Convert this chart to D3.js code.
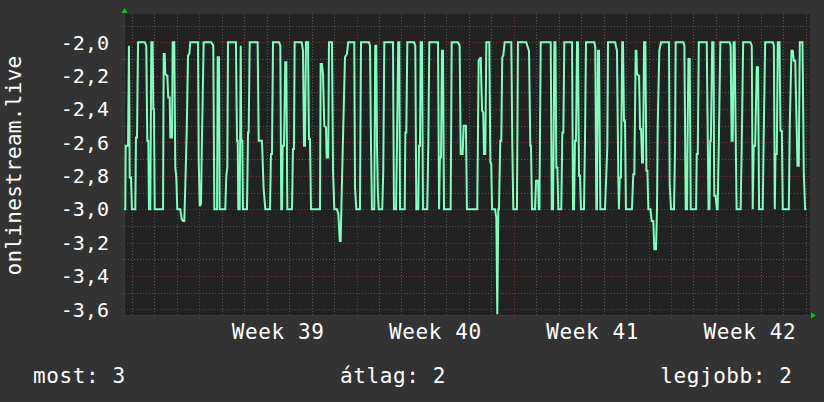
<!DOCTYPE html>
<html><head><meta charset="utf-8">
<script src="https://cdn.jsdelivr.net/npm/d3@7"></script>
<style>html,body{margin:0;padding:0;background:#333333;}svg{display:block}</style>
</head><body>
<svg id="chart" width="824" height="402"></svg>
<script>
// ---------- data ----------
const yTitle = "onlinestream.live";
const startTime = Date.UTC(2023, 8, 21, 15, 36);   // left edge of the graph
const spanHours = 732.9;                             // hours shown
const yTicks = [-2.0, -2.2, -2.4, -2.6, -2.8, -3.0, -3.2, -3.4, -3.6];
const yMinorTicks = [-1.9, -2.1, -2.3, -2.5, -2.7, -2.9, -3.1, -3.3, -3.5];
const weekLabels = ["Week 39", "Week 40", "Week 41", "Week 42"];
const legendLabels = ["most", "átlag", "legjobb"];
const legendValues = [3, 2, 2];
// [hours since startTime, value]
const series = [
[0,-3.0],[1.4,-3.0],[1.8,-2.62],[4.3,-2.62],[5.3,-2.02],[6.1,-2.81],[7.5,-2.81],[8.5,-3.0],[12.1,-3.0],[12.8,-2.57],[13.9,-2.57],[15,-2.0],[22.1,-2.0],[23.8,-2.02],[24.9,-2.59],[26,-2.59],[26.7,-3.0],[28.1,-3.0],[29.2,-2.0],[30.6,-2.0],[31.3,-2.4],[32,-2.4],[32.8,-3.0],[41.7,-3.0],[42.4,-2.07],[43.5,-2.07],[44.1,-2.19],[46.3,-2.2],[47.3,-2.33],[48.8,-2.33],[49.5,-2.57],[51.3,-2.57],[52,-2.0],[53.7,-2.0],[54.8,-2.75],[55.9,-2.81],[56.9,-3.0],[60.1,-3.0],[61.6,-3.06],[63,-3.07],[64.4,-3.07],[65.5,-2.86],[67,-2.53],[68.4,-2.08],[69.8,-2.07],[70.8,-2.0],[79.1,-2.0],[79.8,-2.7],[80.9,-2.98],[82.3,-2.97],[83.3,-2.57],[85.1,-2.0],[93.3,-2.0],[95.4,-2.02],[96.5,-3.0],[99.4,-3.0],[100.1,-2.09],[101.5,-2.09],[102.2,-3.0],[108.2,-3.0],[109.3,-2.8],[110.4,-2.75],[111.1,-2.0],[119.6,-2.0],[120.7,-2.59],[121.5,-2.59],[122.1,-3.0],[123.6,-3.0],[124.7,-2.02],[125.3,-2.59],[126.4,-2.59],[127.1,-3.0],[131.4,-3.0],[132.5,-2.54],[133.2,-2.54],[134.3,-2.0],[142.8,-2.0],[143.9,-2.59],
[147.4,-2.59],[149.2,-2.88],[151,-3.0],[156,-3.0],[157,-2.67],[158.1,-2.67],[159.2,-2.0],[165.6,-2.0],[167,-2.02],[168,-3.0],[168.8,-3.0],[169.5,-2.62],[170.9,-2.62],[172.3,-2.12],[173.4,-2.12],[174.5,-3.0],[179.5,-3.0],[180.5,-2.64],[181.6,-2.64],[182.3,-2.0],[189.8,-2.0],[191.2,-2.05],[192.3,-2.62],[193.4,-2.62],[194.4,-2.0],[196.6,-2.0],[197.6,-2.58],[198.7,-2.58],[199.8,-3.0],[209.4,-3.0],[210.1,-2.13],[211.5,-2.13],[212.6,-2.19],[214,-2.5],[215.8,-2.51],[216.5,-2.69],[218.2,-2.69],[219,-2.0],[222.2,-2.0],[223.3,-2.77],[224.7,-3.0],[227.6,-3.0],[229,-3.03],[230.5,-3.19],[231.5,-3.19],[232.2,-3.0],[234,-2.57],[236.1,-2.09],[238.2,-2.07],[239.6,-2.0],[246,-2.0],[246.8,-2.87],[248.2,-3.0],[252.1,-3.0],[253.2,-2.0],[261.7,-2.0],[262.8,-2.02],[263.9,-2.62],[264.9,-3.0],[267.4,-3.0],[268.4,-2.02],[269.5,-2.02],[270.3,-2.62],[271.3,-2.91],[272.1,-3.0],[275.9,-3.0],[277,-2.77],[278.1,-2.0],[287.4,-2.0],[288.4,-3.0],[290.6,-3.0],[291.6,-2.62],[293,-2.0],
[294.1,-2.0],[294.9,-3.0],[299.9,-3.0],[300.6,-2.54],[301.6,-2.54],[302.7,-2.0],[309.8,-2.0],[311.2,-2.02],[312.3,-3.0],[314.4,-3.0],[315.2,-2.62],[316.2,-2.62],[317,-2.0],[318.4,-2.0],[319.4,-3.0],[324,-3.0],[325.1,-2.62],[326.2,-2.0],[335.5,-2.0],[336.6,-3.0],[337.6,-2.69],[338.7,-2.69],[339.7,-2.05],[340.8,-2.05],[341.9,-3.0],[349,-3.0],[350.1,-2.0],[356.8,-2.0],[358.6,-2.02],[359.7,-2.67],[361.8,-2.67],[362.9,-2.5],[365.3,-2.5],[366.4,-3.0],[377.4,-3.0],[378.9,-2.11],[381.1,-2.09],[382.5,-2.41],[383.8,-2.42],[384.6,-2.67],[386,-2.67],[387.1,-2.0],[390.3,-2.0],[391.4,-2.72],[392.4,-2.73],[393.2,-3.0],[396.4,-3.0],[397.8,-3.05],[398.8,-3.63],[399.9,-3.0],[400.6,-3.0],[402,-2.59],[403.1,-2.59],[404.1,-2.09],[405.2,-2.08],[406.7,-2.0],[413.8,-2.0],[414.8,-2.59],[415.9,-3.0],[419.8,-3.0],[420.9,-2.0],[429.8,-2.0],[430.8,-2.02],[432.7,-2.05],[434.1,-2.62],[434.8,-2.62],[435.9,-3.0],[439.1,-3.0],[440.2,-2.83],
[442.4,-2.83],[443.1,-3.0],[443.8,-3.0],[445.2,-2.0],[455.9,-2.0],[457,-3.0],[458.4,-3.0],[459.8,-2.0],[460.9,-2.0],[461.9,-2.75],[463,-2.75],[464,-3.0],[467.2,-3.0],[468.3,-2.54],[469.4,-2.54],[470.4,-2.0],[478.7,-2.0],[479.7,-3.0],[480.8,-3.0],[481.8,-2.59],[482.9,-2.59],[484,-2.0],[485,-2.0],[486.1,-2.8],[487.2,-2.8],[488.2,-3.0],[491.4,-3.0],[492.5,-2.59],[493.6,-2.0],[502.5,-2.0],[503.5,-2.03],[504.6,-3.0],[505.3,-3.0],[506.4,-2.05],[507.5,-2.05],[508.9,-3.0],[513.9,-3.0],[516.4,-2.62],[517.1,-2.0],[524.6,-2.0],[526.7,-2.05],[528.1,-2.81],[528.8,-3.0],[529.6,-2.81],[530.9,-2.81],[532.3,-2.0],[533.1,-2.0],[534.2,-2.47],[535.2,-2.47],[536.3,-3.0],[542.7,-3.0],[544.1,-2.79],[545.2,-2.79],[546.7,-2.05],[547.4,-2.05],[548.1,-2.19],[550.3,-2.2],[551.3,-2.52],[552.4,-2.52],[553.5,-2.72],[554.5,-2.72],[555.6,-2.0],[557,-2.0],[558.1,-2.77],[559.2,-2.77],[560.2,-3.0],[562.4,-3.0],[563.8,-3.07],[565.5,-3.07],[566.6,-3.24],[568.4,-3.24],[569.4,-3.01],[570.2,-2.5],[571.9,-2.05],[573.7,-2.0],[582.2,-2.0],[583,-2.85],[584.4,-3.0],[587.6,-3.0],[588.7,-2.64],
[589.4,-2.0],[597.6,-2.0],[598.7,-2.02],[600.1,-3.0],[601.6,-3.0],[602,-2.64],[603,-2.1],[604.4,-2.1],[605.5,-3.0],[611.2,-3.0],[611.9,-2.67],[613,-2.67],[614.1,-2.0],[622.6,-2.0],[623.7,-2.59],[624.5,-3.0],[625.5,-3.0],[626.3,-2.59],[627,-2.59],[628.4,-2.0],[629.8,-2.0],[630.6,-2.92],[632,-2.92],[633.4,-3.0],[634.2,-3.0],[635.6,-2.57],[637.1,-2.0],[647,-2.0],[648.1,-2.02],[649.2,-2.59],[650.3,-2.59],[651.3,-2.0],[652.4,-2.0],[653.5,-2.55],[654.5,-3.0],[658.8,-3.0],[659.9,-2.64],[661.5,-2.0],[669.3,-2.0],[670.7,-2.02],[671.7,-3.0],[672.8,-2.62],[674.3,-2.62],[676,-2.15],[677.4,-2.15],[678.5,-3.0],[682.4,-3.0],[683.5,-2.54],[685,-2.0],[693.2,-2.0],[694.3,-2.02],[695.3,-3.0],[696,-2.67],[697.4,-2.67],[698.5,-2.0],[700.3,-2.0],[701.4,-2.53],[702.8,-2.53],[703.8,-3.0],[710.3,-3.0],[711.3,-2.49],[713.1,-2.05],[714.5,-2.05],[715.6,-2.11],[717.1,-2.11],[718.5,-2.47],[719.5,-2.74],[720.9,-2.74],[722,-2.0],[724.9,-2.0],[726.3,-2.79],[727.7,-3.0],[729.1,-3.0]
];

// ---------- layout ----------
const W = 824, H = 402;
const plot = {left: 124, right: 810, top: 14, bottom: 315};
const FONT = "'DejaVu Sans Mono', monospace";
const HOUR = 3600 * 1000;
const t0 = new Date(startTime), t1 = new Date(startTime + spanHours * HOUR);

const x = d3.scaleUtc().domain([t0, t1]).range([plot.left, plot.right]);
const y = d3.scaleLinear().domain([-3.634, -1.8304]).range([plot.bottom, plot.top]);
const fmt = d3.formatLocale({decimal: ",", thousands: ".", grouping: [3], currency: ["", ""], minus: "-"}).format(".1f");

const svg = d3.select("#chart");
svg.append("rect").attr("width", W).attr("height", H).attr("fill", "#333333");
svg.append("rect").attr("x", plot.left).attr("y", plot.top)
  .attr("width", plot.right - plot.left).attr("height", plot.bottom - plot.top).attr("fill", "#222222");

const grid = svg.append("g").attr("shape-rendering", "crispEdges");
const minorCol = "#575757", majorCol = "#7a3434";
// vertical: days (minor), Mondays (major)
const days = d3.utcDay.range(t0, t1);
const mondays = d3.utcMonday.range(t0, t1);
const isMon = d => d.getUTCDay() === 1;
grid.selectAll(".vmin").data(days.filter(d => !isMon(d))).join("line")
  .attr("x1", d => Math.round(x(d)) + 0.5).attr("x2", d => Math.round(x(d)) + 0.5)
  .attr("y1", plot.top).attr("y2", plot.bottom + 2)
  .attr("stroke", minorCol).attr("stroke-dasharray", "1,2");
grid.selectAll(".vmaj").data(mondays).join("line")
  .attr("x1", d => Math.round(x(d)) + 0.5).attr("x2", d => Math.round(x(d)) + 0.5)
  .attr("y1", plot.top).attr("y2", plot.bottom + 3)
  .attr("stroke", majorCol).attr("stroke-dasharray", "1,2");
// horizontal
grid.selectAll(".hmin").data(yMinorTicks).join("line")
  .attr("x1", plot.left - 2).attr("x2", plot.right)
  .attr("y1", d => Math.round(y(d)) + 0.5).attr("y2", d => Math.round(y(d)) + 0.5)
  .attr("stroke", minorCol).attr("stroke-dasharray", "1,2");
grid.selectAll(".hmaj").data(yTicks).join("line")
  .attr("x1", plot.left - 3).attr("x2", plot.right)
  .attr("y1", d => Math.round(y(d)) + 0.5).attr("y2", d => Math.round(y(d)) + 0.5)
  .attr("stroke", majorCol).attr("stroke-dasharray", "1,2");

// axes
grid.append("line").attr("x1", plot.left + 0.5).attr("x2", plot.left + 0.5)
  .attr("y1", plot.top - 4).attr("y2", plot.bottom + 2).attr("stroke", "#3a3a3a");
grid.append("line").attr("x1", plot.left - 2).attr("x2", plot.right + 4)
  .attr("y1", plot.bottom + 0.5).attr("y2", plot.bottom + 0.5).attr("stroke", "#3a3a3a");
const arrowCol = "#00cc00";
svg.append("path").attr("fill", arrowCol)
  .attr("d", `M${plot.left - 2.5},${plot.top - 1} L${plot.left + 3.5},${plot.top - 1} L${plot.left + 0.5},${plot.top - 6} Z`);
svg.append("path").attr("fill", arrowCol)
  .attr("d", `M${plot.right + 1},${plot.bottom - 2.5} L${plot.right + 1},${plot.bottom + 3.5} L${plot.right + 6},${plot.bottom + 0.5} Z`);

// data line
const line = d3.line()
  .x(d => x(new Date(startTime + d[0] * HOUR)))
  .y(d => y(d[1]));
svg.append("path").datum(series).attr("d", line)
  .attr("fill", "none").attr("stroke", "#7dffc0").attr("stroke-width", 2)
  .attr("stroke-linejoin", "miter").attr("stroke-miterlimit", 2);

// text
const txt = svg.append("g").attr("fill", "#ffffff").attr("font-family", FONT);
txt.selectAll(".yl").data(yTicks).join("text")
  .attr("font-size", 20)
  .attr("x", 109).attr("y", d => y(d)).attr("dy", "0.36em")
  .attr("text-anchor", "end").text(d => fmt(d));
// week labels at middle of each week
const weekMid = mondays.map(d => new Date(+d + 3.5 * 24 * HOUR)).filter(d => d < t1);
txt.selectAll(".xl").data(weekLabels).join("text")
  .attr("font-size", 21).attr("letter-spacing", 0.6)
  .attr("x", (d, i) => x(weekMid[i]) + 0.3).attr("y", 338.5)
  .attr("text-anchor", "middle").text(d => d);
txt.append("text").attr("font-size", 21).attr("letter-spacing", 0.3)
  .attr("transform", "translate(21," + ((plot.top + plot.bottom) / 2 + 1) + ") rotate(-90)")
  .attr("text-anchor", "middle").text(yTitle);
const legX = [33, 393, 792.6], legA = ["start", "middle", "end"];
txt.selectAll(".lg").data(legendLabels).join("text")
  .attr("font-size", 21).attr("letter-spacing", 0.6)
  .attr("x", (d, i) => legX[i]).attr("y", 382.5).attr("text-anchor", (d, i) => legA[i])
  .text((d, i) => d + ": " + legendValues[i]);
</script>
</body></html>
